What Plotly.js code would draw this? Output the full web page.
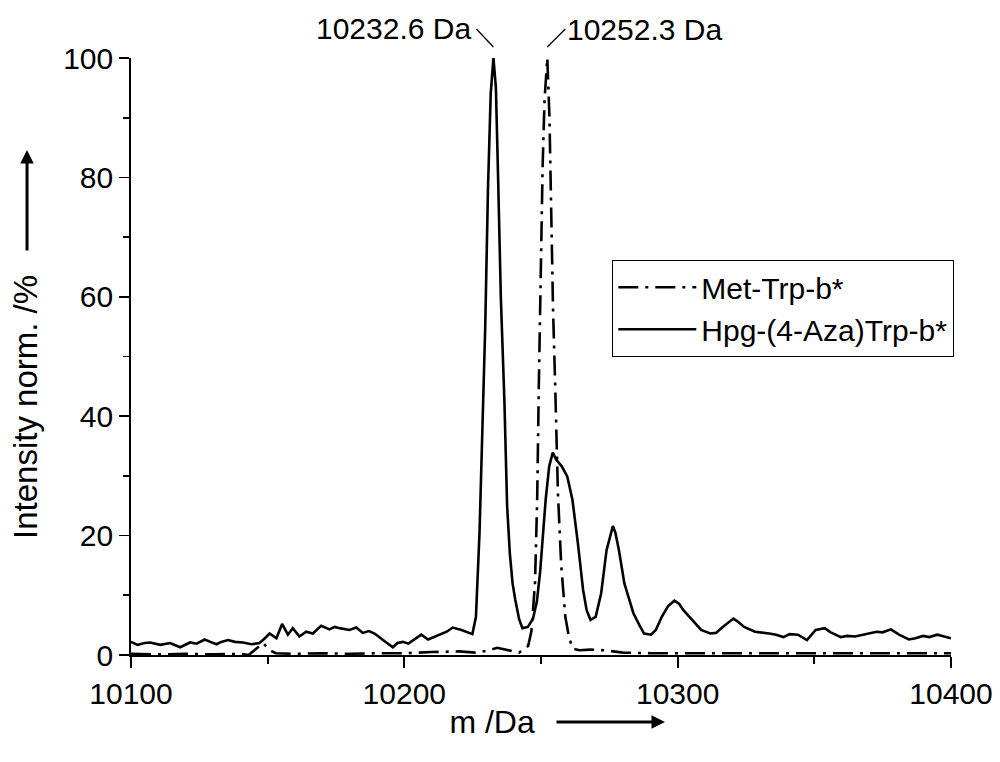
<!DOCTYPE html>
<html>
<head>
<meta charset="utf-8">
<script src="https://cdn.plot.ly/plotly-3.0.1.min.js"></script>
<style>
  html, body { margin: 0; padding: 0; background: #ffffff; }
  #chart { width: 1000px; height: 762px; }
</style>
</head>
<body>
<div id="chart"></div>
<script>
// ---- data ----
const seriesNames = ['Met-Trp-b*', 'Hpg-(4-Aza)Trp-b*'];

const metMass = [10100, 10110, 10120, 10130, 10140, 10143, 10148.4, 10150.7, 10153, 10160, 10170, 10180, 10190, 10200,
  10210, 10220, 10226, 10230, 10234, 10237.7, 10242, 10245.3, 10246.5, 10247.8, 10248.6, 10249.2, 10249.9, 10250.6,
  10251.3, 10252.3, 10253.1, 10253.7, 10254.4, 10255.2, 10256.2, 10257.4, 10258.9, 10260.2, 10261.5, 10264, 10268,
  10273, 10280, 10290, 10300, 10320, 10340, 10360, 10380, 10400];
const metIntensity = [0.2, 0.1, 0.2, 0.1, 0.2, 0.0, 2.0, 0.8, 0.3, 0.2, 0.3, 0.2, 0.3, 0.3,
  0.5, 0.6, 0.4, 0.7, 1.2, 0.8, 0.4, 1.5, 4, 12, 26, 45, 65, 82,
  93, 100, 90, 75, 58, 45, 27, 15, 6.4, 3.1, 1.1, 0.8, 0.9,
  0.8, 0.4, 0.3, 0.3, 0.4, 0.3, 0.3, 0.3, 0.3];

const hpgMass = [10100, 10102.4, 10105, 10107, 10110.7, 10114.3, 10118, 10121.6, 10124, 10127, 10129, 10131.3, 10133,
  10135.5, 10138, 10141, 10144, 10147, 10149, 10150.7, 10153.2, 10155.3, 10157.4, 10159.2, 10161.6, 10164.1, 10166.5,
  10169.6, 10172.6, 10174.5, 10176.3, 10179.9, 10182.4, 10184.8, 10187, 10189.1, 10192.2, 10195.8, 10197.5, 10199.5,
  10201.5, 10203.2, 10206.2, 10208.7, 10211, 10213.1, 10215.5, 10217.7, 10220.9, 10224.9, 10226.2, 10227.5, 10228.8,
  10229.6, 10230.6, 10231.6, 10232.6, 10233.5, 10234.3, 10235.3, 10236.6, 10237.6, 10238.6, 10239.6, 10240.6, 10242,
  10243.2, 10245.2, 10247.1, 10248.5, 10249.7, 10250.7, 10251.7, 10253, 10254.3, 10255.6, 10256.5, 10257.6, 10259.6,
  10261.5, 10263.5, 10265.4, 10266.7, 10268.1, 10270, 10272, 10274, 10275.5, 10276.3, 10277.2, 10278.5, 10280.5,
  10283.8, 10286, 10287.7, 10290.3, 10292, 10294.2, 10296.5, 10298.8, 10300.5, 10302.1, 10305.4, 10308.6, 10311.9,
  10314, 10316.5, 10318.5, 10320.4, 10322, 10324.3, 10328.3, 10331, 10333.5, 10336, 10338.7, 10341, 10344, 10347.3,
  10350.5, 10353.8, 10356, 10359.7, 10362, 10364.9, 10368, 10370, 10372.8, 10375, 10378, 10381, 10384.6, 10387,
  10389.8, 10392, 10395, 10397.5, 10400];
const hpgIntensity = [2.2, 1.7, 2.0, 2.1, 1.7, 2.0, 1.3, 2.1, 1.9, 2.6, 2.2, 1.8, 2.2,
  2.5, 2.2, 2.1, 1.8, 2.0, 2.8, 3.6, 2.8, 5.2, 3.4, 4.5, 3.1, 3.9, 3.6,
  4.9, 4.3, 4.7, 4.5, 4.2, 4.6, 3.7, 4.0, 3.6, 2.5, 1.3, 2.0, 2.2,
  1.9, 2.5, 3.4, 2.6, 3.0, 3.4, 3.9, 4.6, 4.2, 3.5, 6.4, 20.4, 42.7,
  55, 78, 94, 100, 95, 80, 60, 42.7, 25, 17, 12, 9.2, 6,
  4.5, 4.7, 6.1, 9, 14, 20, 26, 31.6, 33.9, 32.7, 32.2, 31.6, 29.9,
  26, 18.7, 10.9, 7.5, 5.9, 6.4, 10.3, 17.6, 20.5, 21.6, 20.5, 17.6, 12,
  7, 5, 3.6, 3.4, 4.2, 6.4, 8.2, 9.1, 8.6, 7.5, 5.9, 4.2, 3.6,
  3.7, 4.7, 5.5, 6.1, 5.6, 4.7, 3.9, 3.8, 3.6, 3.4, 3.0, 3.5, 3.4, 2.5,
  4.2, 4.5, 3.8, 3.0, 3.2, 3.1, 3.4, 3.7, 3.9, 3.8, 4.3, 3.4, 2.6, 2.8,
  3.2, 3.0, 3.4, 3.1, 2.8];

const peakMasses = [10232.6, 10252.3];
const peakLabels = ['10232.6 Da', '10252.3 Da'];

const xTickVals = [10100, 10200, 10300, 10400];
const yTickVals = [0, 20, 40, 60, 80, 100];

const xTitle = 'm /Da';
const yTitle = 'Intensity norm. /%';

// ---- chart ----
const FONT = 'Liberation Sans, Arial, Helvetica, sans-serif';
const NB = '\u00A0';
const ZW = '\u200B'; // keeps trailing spacing from being trimmed

const traces = [
  {
    x: metMass, y: metIntensity, name: seriesNames[0], type: 'scatter', mode: 'lines',
    line: { color: '#000000', width: 2.6, dash: '20px,7px,3px,7px' }, cliponaxis: false
  },
  {
    x: hpgMass, y: hpgIntensity, name: seriesNames[1], type: 'scatter', mode: 'lines',
    line: { color: '#000000', width: 2.6 }, cliponaxis: false
  }
];

const annotations = [
  {
    x: peakMasses[0], y: 100, xref: 'x', yref: 'y', text: peakLabels[0],
    showarrow: true, arrowhead: 0, arrowwidth: 1.3, arrowcolor: '#000',
    ax: -17, ay: -18, yshift: 11, xanchor: 'right', yanchor: 'middle', borderpad: 4,
    font: { family: FONT, size: 30, color: '#000' }
  },
  {
    x: peakMasses[1], y: 100, xref: 'x', yref: 'y', text: peakLabels[1],
    showarrow: true, arrowhead: 0, arrowwidth: 1.3, arrowcolor: '#000',
    ax: 18, ay: -18, yshift: 11, xanchor: 'left', yanchor: 'middle', borderpad: 1,
    font: { family: FONT, size: 30, color: '#000' }
  },
  // axis-title arrows
  {
    x: -0.1268, y: 0.846, xref: 'paper', yref: 'paper', text: '',
    showarrow: true, arrowhead: 2, arrowsize: 0.9, arrowwidth: 3, arrowcolor: '#000',
    ax: 0, ay: 102
  },
  {
    x: 0.6512, y: -0.1122, xref: 'paper', yref: 'paper', text: '',
    showarrow: true, arrowhead: 2, arrowsize: 0.9, arrowwidth: 3, arrowcolor: '#000',
    ax: -110, ay: 0
  }
];

const layout = {
  width: 1000, height: 762,
  margin: { l: 131, r: 49, t: 58, b: 107 },
  paper_bgcolor: '#ffffff', plot_bgcolor: '#ffffff',
  font: { family: FONT, color: '#000000' },
  showlegend: true,
  legend: {
    x: 0.5866, y: 0.6616, xanchor: 'left', yanchor: 'top',
    bgcolor: '#ffffff', bordercolor: '#000000', borderwidth: 1.3,
    font: { family: FONT, size: 30, color: '#000' },
    itemwidth: 78, traceorder: 'normal'
  },
  xaxis: {
    range: [10100, 10400], showgrid: false, zeroline: false,
    showline: true, linecolor: '#000', linewidth: 1.8, mirror: false,
    ticks: 'outside', ticklen: 11, tickwidth: 1.8, tickcolor: '#000',
    tickvals: xTickVals, ticktext: xTickVals.map(String),
    tickfont: { family: FONT, size: 30, color: '#000' },
    minor: { dtick: 50, tick0: 10100, ticks: 'outside', ticklen: 7, tickwidth: 1.8, tickcolor: '#000', showgrid: false },
    title: { text: xTitle + NB.repeat(11) + ZW, font: { family: FONT, size: 32, color: '#000' }, standoff: 2 }
  },
  yaxis: {
    range: [0, 100], showgrid: false, zeroline: false,
    showline: true, linecolor: '#000', linewidth: 1.8, mirror: false,
    ticks: 'outside', ticklen: 10, tickwidth: 1.8, tickcolor: '#000',
    tickvals: yTickVals, ticktext: yTickVals.map(String),
    tickfont: { family: FONT, size: 30, color: '#000' },
    minor: { dtick: 10, tick0: 0, ticks: 'outside', ticklen: 6, tickwidth: 1.8, tickcolor: '#000', showgrid: false },
    title: { text: yTitle + NB.repeat(11) + ZW, font: { family: FONT, size: 33, color: '#000' }, standoff: 15 }
  },
  annotations: annotations
};

Plotly.newPlot('chart', traces, layout, { displayModeBar: false, staticPlot: true });
</script>
</body>
</html>
